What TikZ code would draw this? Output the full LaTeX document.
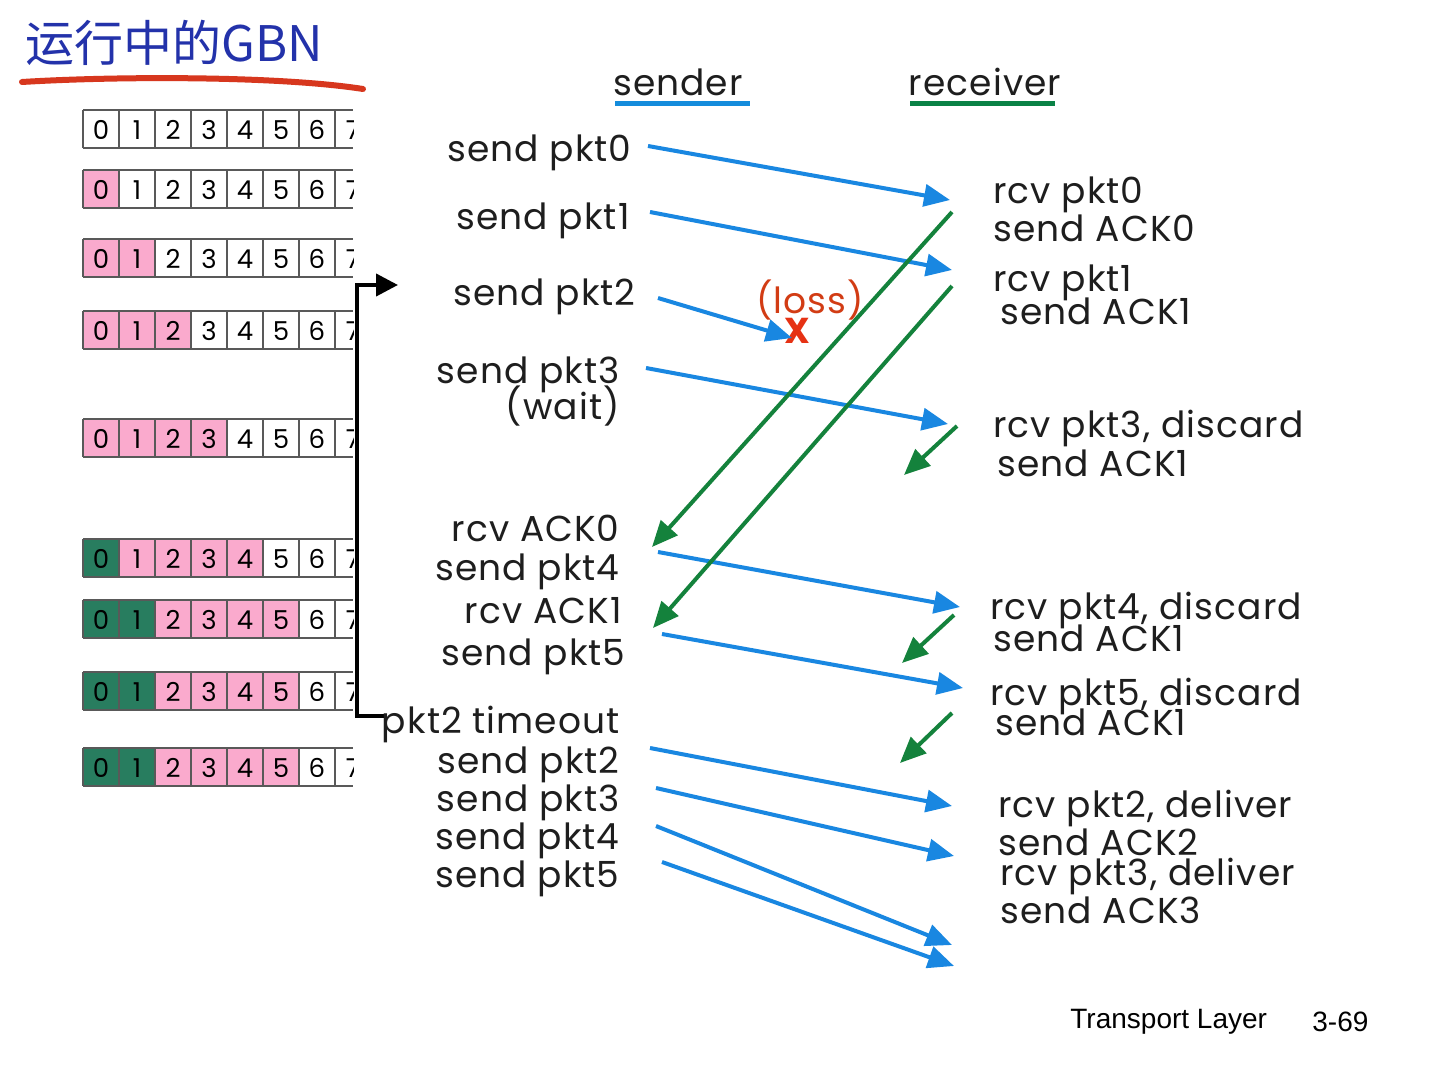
\documentclass[tikz,border=0pt]{standalone}
\usepackage{fontspec}
\setmainfont{Poppins}
\newfontfamily\lblfont[LetterSpace=3]{Poppins}
\newfontfamily\cjk{Noto Sans CJK SC}
\newfontfamily\tfont{Liberation Sans}
\usetikzlibrary{arrows.meta}
\definecolor{ablue}{RGB}{25,135,225}
\definecolor{agreen}{RGB}{20,130,60}
\definecolor{sblue}{RGB}{20,140,220}
\definecolor{rgreen}{RGB}{10,130,70}
\definecolor{cpink}{RGB}{250,170,205}
\definecolor{cgreen}{RGB}{40,125,95}
\definecolor{lossred}{RGB}{210,60,20}
\definecolor{xred}{RGB}{230,50,20}
\definecolor{titleblue}{RGB}{35,50,170}
\definecolor{ulred}{RGB}{215,55,30}
\definecolor{txt}{RGB}{30,30,30}
\begin{document}
\begin{tikzpicture}[x=0.5pt,y=-0.5pt,
  lbl/.style={inner sep=0pt, font=\lblfont\fontsize{18}{21}\selectfont, text=txt, text height=12.5pt, text depth=4pt},
  snd/.style={lbl, anchor=east, yshift=-2.5pt},
  rcvl/.style={lbl, anchor=west, yshift=-2.5pt},
  barrow/.style={draw=ablue, line width=2pt, -{Triangle[length=13pt,width=11pt]}},
  garrow/.style={draw=agreen, line width=2pt, -{Triangle[length=13pt,width=11pt]}},
  gridline/.style={draw=black!65, line width=0.6pt},
  digit/.style={inner sep=0pt, font=\fontsize{13}{15}\selectfont, text=black},
  hdr/.style={inner sep=0pt, font=\lblfont\fontsize{18}{22}\selectfont, text=txt}
]
\useasboundingbox[fill=white] (0,0) rectangle (1441,1069);

% title
\node[anchor=west, inner sep=0pt, text=titleblue, font=\cjk\fontsize{24.5}{28}\selectfont] (title) at (25,43) {运行中的GBN};
\draw[ulred, line width=3pt, line cap=round] (22,82) .. controls (120,76) and (280,76) .. (363,89);

% windows
\begin{scope}
\clip (70,100) rectangle (353.5,800);
\foreach \r/\y/\g/\p in {1/110/0/0,2/170/0/1,3/239/0/2,4/311/0/3,5/419/0/4,6/539/1/4,7/600/2/4,8/672/2/4,9/748/2/4}{
  \ifnum\g>0 \fill[cgreen] (83,\y) rectangle ++(36*\g,38); \fi
  \ifnum\p>0 \fill[cpink] (83+36*\g,\y) rectangle ++(36*\p,38); \fi
  \draw[gridline] (83,\y) -- (353,\y) (83,\y+38) -- (353,\y+38);
  \foreach \k in {0,...,7}{
    \draw[gridline] (83+36*\k,\y) -- ++(0,38);
    \node[digit] (c\r-\k) at (101+36*\k,\y+20) {\k};
  }
}
\end{scope}

% timeout bracket
\coordinate (brT) at (357,285);
\coordinate (brTip) at (398,285);
\coordinate (brB) at (357,716);
\coordinate (brE) at (384,716);
\draw[line width=2pt] (brE) -- (brB) -- (brT);
\draw[line width=2pt, -{Triangle[length=11pt,width=11pt]}] ([xshift=-1pt]brT) -- (brTip);

% headers
\node[hdr] (sender) at (678,82) {sender};
\draw[sblue, line width=2.5pt] (615,104) -- (750,104);
\node[hdr] (receiver) at (985,82) {receiver};
\draw[rgreen, line width=2.5pt] (910,104) -- (1055,104);

% sender labels
\node[snd] (s0) at (632,148) {send pkt0};
\node[snd] (s1) at (630,216) {send pkt1};
\node[snd] (s2) at (636,292) {send pkt2};
\node[snd] (s3) at (620,370) {send pkt3};
\node[snd] (sw) at (620,406) {(wait)};
\node[snd] (ra0) at (620,528) {rcv ACK0};
\node[snd] (s4) at (620,567) {send pkt4};
\node[snd] (ra1) at (622,610) {rcv ACK1};
\node[snd] (s5) at (626,652) {send pkt5};
\node[snd] (to) at (620,720) {pkt2 timeout};
\node[snd] (t2) at (620,760) {send pkt2};
\node[snd] (t3) at (620,798) {send pkt3};
\node[snd] (t4) at (620,836) {send pkt4};
\node[snd] (t5) at (620,874) {send pkt5};

% receiver labels
\node[rcvl] (q0) at (993,190) {rcv pkt0};
\node[rcvl] (k0) at (993,228) {send ACK0};
\node[rcvl] (q1) at (993,278) {rcv pkt1};
\node[rcvl] (k1) at (1000,311) {send ACK1};
\node[rcvl] (q3) at (993,424) {rcv pkt3, discard};
\node[rcvl] (k1b) at (997,463) {send ACK1};
\node[rcvl] (q4) at (990,606) {rcv pkt4, discard};
\node[rcvl] (k1c) at (993,638) {send ACK1};
\node[rcvl] (q5) at (990,692) {rcv pkt5, discard};
\node[rcvl] (k1d) at (995,722) {send ACK1};
\node[rcvl] (q2) at (998,804) {rcv pkt2, deliver};
\node[rcvl] (k2) at (998,842) {send ACK2};
\node[rcvl] (q3b) at (1000,872) {rcv pkt3, deliver};
\node[rcvl] (k3) at (1000,910) {send ACK3};

% loss
\node[inner sep=0pt, text=lossred, font=\lblfont\fontsize{18}{20}\selectfont] (loss) at (810,300) {(loss)};
\node[inner sep=0pt, text=xred, font=\bfseries\fontsize{18}{20}\selectfont] (lx) at (797,331) {X};

% arrow endpoints
\coordinate (b1a) at (648,146); \coordinate (b1b) at (950,200);
\coordinate (b2a) at (650,212); \coordinate (b2b) at (952,270);
\coordinate (b3a) at (658,298); \coordinate (b3b) at (792,338);
\coordinate (b4a) at (646,368); \coordinate (b4b) at (948,424);
\coordinate (b5a) at (658,552); \coordinate (b5b) at (960,607);
\coordinate (b6a) at (662,634); \coordinate (b6b) at (963,688);
\coordinate (b7a) at (650,748); \coordinate (b7b) at (952,806);
\coordinate (b8a) at (656,788); \coordinate (b8b) at (954,856);
\coordinate (b9a) at (656,826); \coordinate (b9b) at (952,945);
\coordinate (b10a) at (662,862); \coordinate (b10b) at (954,966);
\coordinate (g1a) at (952,212); \coordinate (g1b) at (652,547);
\coordinate (g2a) at (952,286); \coordinate (g2b) at (653,628);
\coordinate (g3a) at (957,426); \coordinate (g3b) at (904,475);
\coordinate (g4a) at (954,615); \coordinate (g4b) at (902,663);
\coordinate (g5a) at (952,713); \coordinate (g5b) at (900,763);

\foreach \i in {1,...,10}{ \draw[barrow] (b\i a) -- (b\i b); }
\foreach \i in {1,...,5}{ \draw[garrow] (g\i a) -- (g\i b); }

% footer
\node[anchor=west, inner sep=0pt, font=\tfont\fontsize{14}{16}\selectfont] (tl) at (1070,1022) {Transport Layer};
\node[anchor=west, inner sep=0pt, font=\tfont\fontsize{14}{16}\selectfont] (pg) at (1312,1022) {3-69};
\end{tikzpicture}
\end{document}
